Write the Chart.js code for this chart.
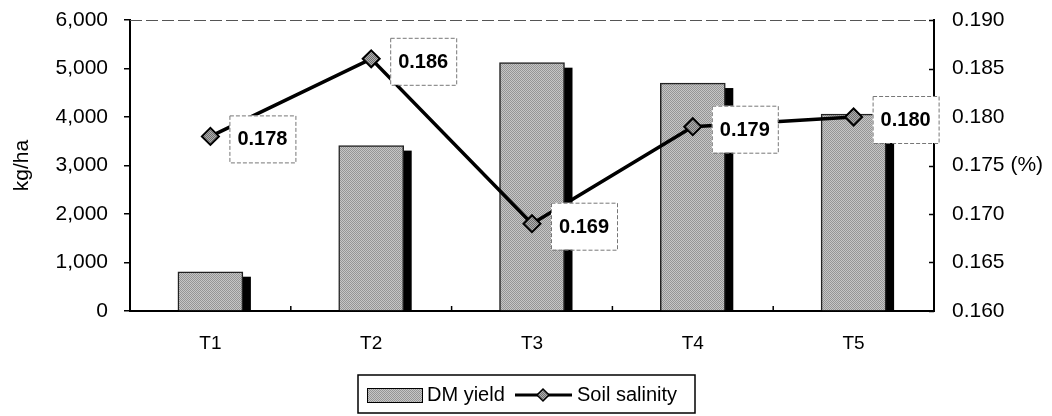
<!DOCTYPE html>
<html>
<head>
<meta charset="utf-8">
<script src="https://cdn.jsdelivr.net/npm/chart.js@4.4.1/dist/chart.umd.min.js"></script>
<style>
  html, body { margin: 0; padding: 0; background: #fff; }
  #chart { display: block; }
</style>
</head>
<body>
<canvas id="chart" width="1052" height="416"></canvas>
<script>
// values
const categories = ['T1', 'T2', 'T3', 'T4', 'T5'];
const dmYield = [810, 3410, 5120, 4700, 4060];
const salinity = [0.178, 0.186, 0.169, 0.179, 0.180];
const yieldAxis = [0, 6000, 1000];         // min, max, step (kg/ha)
const salinityAxis = [0.160, 0.190, 0.005]; // min, max, step (%)

const canvas = document.getElementById('chart');
const ctx = canvas.getContext('2d');
const FONT = '"Liberation Sans", Arial, sans-serif';

// grey stipple like the scanned fills
function stipple(light, dark) {
  const c = document.createElement('canvas');
  c.width = c.height = 2;
  const g = c.getContext('2d');
  g.fillStyle = light;
  g.fillRect(0, 0, 2, 2);
  g.fillStyle = dark;
  g.fillRect(0, 0, 1, 1);
  g.fillRect(1, 1, 1, 1);
  return ctx.createPattern(c, 'repeat');
}
const barFill = stipple('#c6c6c6', '#959595');
const markerFill = stipple('#b0b0b0', '#6e6e6e');

function diamond(g, x, y, r) {
  g.beginPath();
  g.moveTo(x, y - r); g.lineTo(x + r, y); g.lineTo(x, y + r); g.lineTo(x - r, y);
  g.closePath();
}

const decor = {
  id: 'decor',
  beforeDatasetsDraw(chart) {
    const { ctx: g, chartArea: a, scales } = chart;
    g.save();
    // dashed top edge of the plot frame
    g.strokeStyle = '#555';
    g.lineWidth = 1;
    g.setLineDash([12, 4]);
    g.beginPath();
    g.moveTo(a.left, a.top + 0.5);
    g.lineTo(a.right, a.top + 0.5);
    g.stroke();
    g.setLineDash([]);
    // inner ticks on the right axis
    g.strokeStyle = '#000';
    g.lineWidth = 1.5;
    scales.y1.ticks.forEach(t => {
      const y = Math.round(scales.y1.getPixelForValue(t.value)) + 0.5;
      g.beginPath();
      g.moveTo(a.right, y);
      g.lineTo(a.right - 5, y);
      g.stroke();
    });
    // black drop shadows behind the bars
    g.fillStyle = '#000';
    chart.getDatasetMeta(0).data.forEach(bar => {
      const p = bar.getProps(['x', 'y', 'base', 'width'], true);
      g.fillRect(p.x - p.width / 2 + 8, p.y + 5, p.width, p.base - p.y - 5);
    });
    g.restore();
  },
  afterDatasetsDraw(chart) {
    const { ctx: g, chartArea: a, scales } = chart;
    g.save();
    // small inner ticks between categories on the x axis
    g.strokeStyle = '#000';
    g.lineWidth = 1.5;
    for (let i = 1; i < categories.length; i++) {
      const x = (scales.x.getPixelForValue(i - 1) + scales.x.getPixelForValue(i)) / 2;
      g.beginPath();
      g.moveTo(x, a.bottom);
      g.lineTo(x, a.bottom - 5);
      g.stroke();
    }
    // value boxes next to each salinity point
    g.font = 'bold 20px ' + FONT;
    g.textAlign = 'center';
    g.textBaseline = 'middle';
    chart.getDatasetMeta(1).data.forEach((pt, i) => {
      const bx = pt.x + 19, by = pt.y - 21, w = 66, h = 47;
      g.fillStyle = '#fff';
      g.fillRect(bx, by, w, h);
      g.strokeStyle = '#777';
      g.lineWidth = 1;
      g.setLineDash([4, 2]);
      g.strokeRect(bx + 0.5, by + 0.5, w, h);
      g.setLineDash([]);
      g.fillStyle = '#000';
      g.fillText(salinity[i].toFixed(3), bx + w / 2, by + h / 2 + 1);
    });
    g.restore();
  },
  afterDraw(chart) {
    const g = chart.ctx;
    const ds = chart.data.datasets;
    g.save();
    g.strokeStyle = '#000';
    g.lineWidth = 1.5;
    g.strokeRect(358, 375, 337, 38);
    // bar swatch
    g.fillStyle = barFill;
    g.fillRect(367, 388, 55, 14);
    g.lineWidth = 1;
    g.strokeRect(367.5, 388.5, 55, 14);
    g.font = '20px ' + FONT;
    g.fillStyle = '#000';
    g.textAlign = 'left';
    g.textBaseline = 'middle';
    g.fillText(ds[0].label, 427, 395);
    // line swatch
    g.lineWidth = 3;
    g.beginPath();
    g.moveTo(515, 395);
    g.lineTo(572, 395);
    g.stroke();
    diamond(g, 543, 395, 6);
    g.fillStyle = markerFill;
    g.fill();
    g.lineWidth = 1.5;
    g.stroke();
    g.fillStyle = '#000';
    g.fillText(ds[1].label, 577, 395);
    g.restore();
  }
};

// fixed axis box sizes so the plot area lands where the reference has it
function fixVertical(width) {
  return s => { s.width = width; s.paddingTop = 0; s.paddingBottom = 0; };
}

new Chart(canvas, {
  data: {
    labels: categories,
    datasets: [
      {
        type: 'bar',
        label: 'DM yield',
        data: dmYield,
        yAxisID: 'y',
        backgroundColor: barFill,
        borderColor: '#222',
        borderWidth: 1.5,
        barThickness: 65,
        order: 2
      },
      {
        type: 'line',
        label: 'Soil salinity',
        data: salinity,
        yAxisID: 'y1',
        borderColor: '#000',
        borderWidth: 3.5,
        tension: 0,
        pointStyle: 'rectRot',
        pointRadius: 8.5,
        pointBackgroundColor: markerFill,
        pointBorderColor: '#000',
        pointBorderWidth: 2,
        order: 1
      }
    ]
  },
  options: {
    responsive: false,
    animation: false,
    layout: { padding: { top: 20, left: 6, right: 0, bottom: 0 } },
    plugins: { legend: { display: false }, tooltip: { enabled: false } },
    scales: {
      x: {
        grid: { display: false },
        border: { color: '#000', width: 2 },
        ticks: { color: '#000', font: { family: FONT, size: 19 }, padding: 13 },
        afterFit: s => { s.height = 105; s.paddingLeft = 0; s.paddingRight = 0; }
      },
      y: {
        position: 'left',
        min: yieldAxis[0], max: yieldAxis[1],
        ticks: {
          stepSize: yieldAxis[2], color: '#000', padding: 16,
          font: { family: FONT, size: 21 },
          callback: v => v.toLocaleString('en-US')
        },
        grid: { drawOnChartArea: false, tickLength: 6, color: '#000', lineWidth: 1.5 },
        border: { color: '#000', width: 2 },
        title: { display: true, text: 'kg/ha', color: '#000', font: { family: FONT, size: 21 } },
        afterFit: fixVertical(124)
      },
      y1: {
        position: 'right',
        min: salinityAxis[0], max: salinityAxis[1],
        ticks: {
          stepSize: salinityAxis[2], color: '#000', padding: 10,
          font: { family: FONT, size: 21 },
          callback: v => v.toFixed(3) + (Math.abs(v - 0.175) < 1e-9 ? ' (%)' : '')
        },
        grid: { display: false },
        border: { color: '#000', width: 2 },
        afterFit: fixVertical(118)
      }
    }
  },
  plugins: [decor]
});
</script>
</body>
</html>
